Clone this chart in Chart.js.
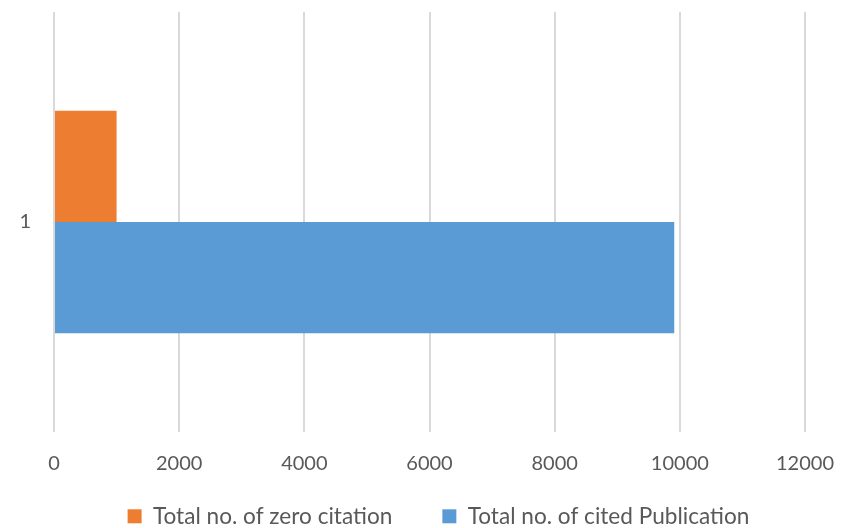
<!DOCTYPE html>
<html>
<head>
<meta charset="utf-8">
<script src="https://cdn.jsdelivr.net/npm/chart.js@4/dist/chart.umd.min.js"></script>
<style>
  html, body { margin: 0; padding: 0; background: #fff; overflow: hidden; }
</style>
</head>
<body>
<canvas id="myChart" width="841" height="528"></canvas>
<script>
// data
const categories = ["1"];
const zeroCitation = [1000];
const citedPublication = [9911];
const xTicks = [0, 2000, 4000, 6000, 8000, 10000, 12000];

const orange = "#ED7D31";
const blue = "#5B9BD5";
const txt = "#595959";
const none = "rgba(0,0,0,0)";

Chart.defaults.font.family = "Lato, 'Open Sans', sans-serif";
Chart.defaults.color = txt;

// legend padding is big for the gap between items, so keep its box short
const shortLegend = {
  id: 'shortLegend',
  afterInit(chart) {
    const lg = chart.legend;
    if (!lg) return;
    const fit = lg.fit;
    lg.fit = function () {
      fit.call(this);
      this.height = 53;
    };
    const draw = lg.draw;
    lg.draw = function () {
      const t = this.top, l = this.left, r = this.right;
      this.top = t - 20;
      this.left = l + 9;
      this.right = r + 9;
      draw.call(this);
      this.top = t;
      this.left = l;
      this.right = r;
    };
  }
};

new Chart(document.getElementById('myChart'), {
  type: 'bar',
  data: {
    labels: categories,
    datasets: [
      { label: "Total no. of zero citation", data: zeroCitation, backgroundColor: orange },
      { label: "Total no. of cited Publication", data: citedPublication, backgroundColor: blue }
    ]
  },
  options: {
    indexAxis: 'y',
    responsive: false,
    animation: false,
    layout: { padding: { top: 10, right: 36, left: 0, bottom: 0 } },
    datasets: { bar: { barPercentage: 1, categoryPercentage: 0.53 } },
    scales: {
      x: {
        min: xTicks[0],
        max: xTicks[xTicks.length - 1],
        afterBuildTicks: (axis) => { axis.ticks = xTicks.map(v => ({ value: v })); },
        afterFit: (axis) => { axis.height = 43; },
        grid: { color: "#d9d9d9", lineWidth: 2, drawTicks: true, tickLength: 20, tickColor: none },
        border: { display: false },
        ticks: {
          padding: 0, font: { size: 20 }, color: txt,
          autoSkip: false, maxRotation: 0,
          callback: (v) => String(v)
        }
      },
      y: {
        afterFit: (axis) => { axis.width = 54; },
        grid: { color: none, drawTicks: true, tickLength: 23, tickColor: none },
        border: { display: false },
        ticks: { padding: 0, font: { size: 20 }, color: txt }
      }
    },
    plugins: {
      legend: {
        position: 'bottom',
        fullSize: false,
        labels: { boxWidth: 14, boxHeight: 14, padding: 50, font: { size: 22.6 }, color: txt }
      },
      tooltip: { enabled: false }
    }
  },
  plugins: [shortLegend]
});
</script>
</body>
</html>
